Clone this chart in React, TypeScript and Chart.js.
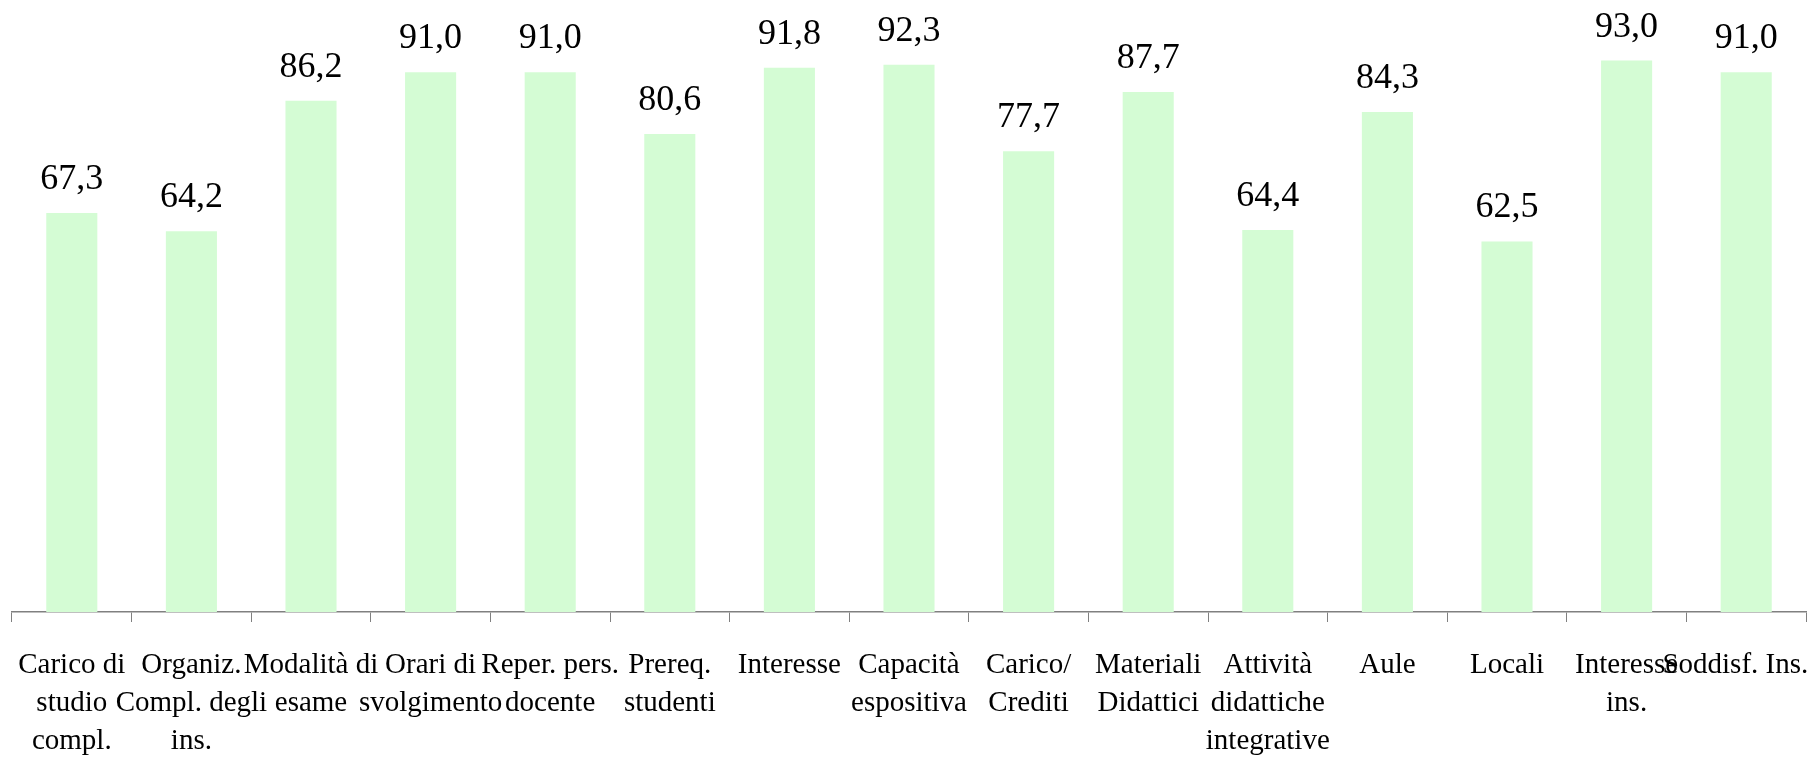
import React, { useEffect, useRef } from "react";
import { Chart, registerables } from "chart.js";

Chart.register(...registerables);

const categories: (string | string[])[] = [
  ["Carico di", "studio", "compl."],
  ["Organiz.", "Compl. degli", "ins."],
  ["Modalità di", "esame"],
  ["Orari di", "svolgimento"],
  ["Reper. pers.", "docente"],
  ["Prereq.", "studenti"],
  "Interesse",
  ["Capacità", "espositiva"],
  ["Carico/", "Crediti"],
  ["Materiali", "Didattici"],
  ["Attività", "didattiche", "integrative"],
  "Aule",
  "Locali",
  ["Interesse", "ins."],
  "Soddisf. Ins.",
];

const values: number[] = [67.3, 64.2, 86.2, 91.0, 91.0, 80.6, 91.8, 92.3, 77.7, 87.7, 64.4, 84.3, 62.5, 93.0, 91.0];

const FONT = "'Liberation Serif', 'Times New Roman', serif";

const valueLabels = {
  id: "valueLabels",
  afterDatasetsDraw(chart: any) {
    const ctx = chart.ctx;
    const meta = chart.getDatasetMeta(0);
    ctx.save();
    ctx.font = `36px ${FONT}`;
    ctx.fillStyle = "#000";
    ctx.textAlign = "center";
    ctx.textBaseline = "alphabetic";
    meta.data.forEach((bar: any, i: number) => {
      const txt = values[i].toFixed(1).replace(".", ",");
      ctx.fillText(txt, bar.x, bar.y - 24);
    });
    ctx.restore();
  },
};

export default function App() {
  const ref = useRef<HTMLCanvasElement | null>(null);
  useEffect(() => {
    document.body.style.margin = "0";
    const chart = new Chart(ref.current!, {
      type: "bar",
      data: {
        labels: categories,
        datasets: [
          {
            data: values,
            backgroundColor: "rgb(212,252,212)",
            borderWidth: 0,
            barPercentage: 0.427,
            categoryPercentage: 1,
          },
        ],
      },
      options: {
        animation: false,
        responsive: false,
        maintainAspectRatio: false,
        layout: { padding: { left: 12, right: 7, top: 19, bottom: 0 } },
        plugins: { legend: { display: false }, tooltip: { enabled: false } },
        scales: {
          y: { display: false, min: 0, max: 100 },
          x: {
            offset: true,
            grid: {
              display: true,
              offset: true,
              drawOnChartArea: false,
              drawTicks: true,
              tickLength: 10,
              color: "#808080",
            },
            border: { display: true, color: "#808080", width: 1.5 },
            ticks: {
              autoSkip: false,
              maxRotation: 0,
              minRotation: 0,
              padding: 24,
              color: "#000",
              font: { family: FONT, size: 29, lineHeight: 1.31 },
              callback: (_v: any, i: number) => {
                const lab = categories[i];
                // keep the last label inside the canvas, as in the reference
                return i === categories.length - 1 ? lab + "   " : lab;
              },
            },
            afterFit: (scale: any) => {
              scale.paddingLeft = 0;
              scale.paddingRight = 0;
              scale.height = 146;
            },
          },
        },
      },
      plugins: [valueLabels],
    });
    return () => chart.destroy();
  }, []);
  return (
    <div style={{ width: 1813, height: 758 }}>
      <canvas ref={ref} width={1813} height={758} style={{ display: "block" }} />
    </div>
  );
}
